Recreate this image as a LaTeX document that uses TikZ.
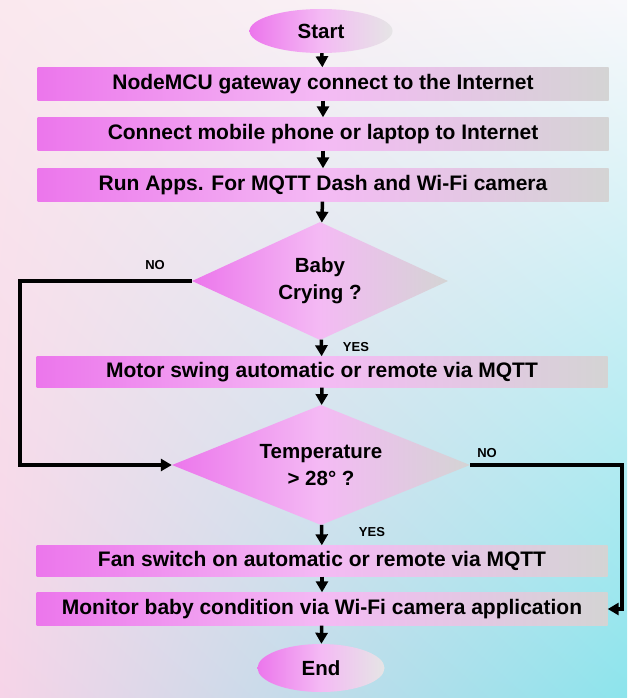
\documentclass[tikz,border=0pt]{standalone}
\usepackage{fontspec}
\setmainfont{Liberation Sans}
\usetikzlibrary{shapes.geometric,arrows.meta,shadings}

\definecolor{flowpink}{RGB}{236,118,236}
\definecolor{flowmid}{RGB}{244,186,244}
\definecolor{flowgray}{RGB}{212,212,212}
\definecolor{bgpink}{RGB}{250,232,238}
\definecolor{bgwhite}{RGB}{248,248,251}
\definecolor{bgrose}{RGB}{246,212,232}
\definecolor{bgcyan}{RGB}{140,228,236}

\begin{document}
\begin{tikzpicture}[x=1pt, y=-1pt,
		stepbox/.style={rectangle, minimum width=571pt, minimum height=33pt, inner sep=0pt,
			left color=flowpink, right color=flowgray, middle color=flowmid,
			font=\fontsize{21}{22}\selectfont\bfseries},
		decision/.style={diamond, aspect=2.5, inner sep=0pt, shading angle=45,
			left color=flowpink, right color=flowgray, middle color=flowmid,
			align=center, font=\fontsize{20.5}{27}\selectfont\bfseries},
		terminal/.style={ellipse, inner sep=0pt,
			left color=flowpink, right color=flowgray!60, middle color=flowmid,
			font=\fontsize{20.5}{22}\selectfont\bfseries},
		flow/.style={-{Triangle[length=11pt,width=12pt]}, line width=3.5pt},
		answer/.style={font=\fontsize{13}{15}\selectfont\bfseries}]

		\useasboundingbox (0,0) rectangle (627,698);
		\shade[upper left=bgpink, upper right=bgwhite, lower left=bgrose, lower right=bgcyan] (0,0) rectangle (627,698);

		\node[terminal, minimum width=143pt, minimum height=44pt] (start) at (321,31) {Start};
		\node[stepbox] (gateway) at (323,84) {NodeMCU gateway connect to the Internet};
		\node[stepbox] (phone) at (323,134) {Connect mobile phone or laptop to Internet};
		\node[stepbox] (apps) at (323,185) {Run Apps. For MQTT Dash and Wi-Fi camera};
		\node[decision, minimum width=256pt, minimum height=118pt] (crying) at (320,281) {Baby\\Crying ?};
		\node[stepbox, minimum height=31pt] (swing) at (322,372) {Motor swing automatic or remote via MQTT};
		\node[decision, minimum width=298pt, minimum height=120pt] (temp) at (321,465) {Temperature\\> 28° ?};
		\node[stepbox, minimum height=31pt] (fan) at (322,561) {Fan switch on automatic or remote via MQTT};
		\node[stepbox] (monitor) at (322,609) {Monitor baby condition via Wi-Fi camera application};
		\node[terminal, minimum width=127pt, minimum height=48pt] (end) at (321,668) {End};

		\coordinate (leftturn) at (20,281);
		\coordinate (rightturn) at (622,465);

		\draw[flow] (start) -- (gateway);
		\draw[flow] (gateway) -- (phone);
		\draw[flow] (phone) -- (apps);
		\draw[flow] (apps) -- (crying);
		\draw[flow] (crying) -- (swing);
		\draw[flow] (swing) -- (temp);
		\draw[flow] (temp) -- (fan);
		\draw[flow] (fan) -- (monitor);
		\draw[flow] (monitor) -- (end);

		\draw[flow] (crying.west) -- (leftturn) |- (temp.west);
		\draw[flow] (temp.east) -- (rightturn) |- (monitor.east);

		\node[answer] (nocrying) at (155,265) {NO};
		\node[answer] (yescrying) at (356,347) {YES};
		\node[answer] (notemp) at (487,453) {NO};
		\node[answer] (yestemp) at (372,532) {YES};
	\end{tikzpicture}
\end{document}
